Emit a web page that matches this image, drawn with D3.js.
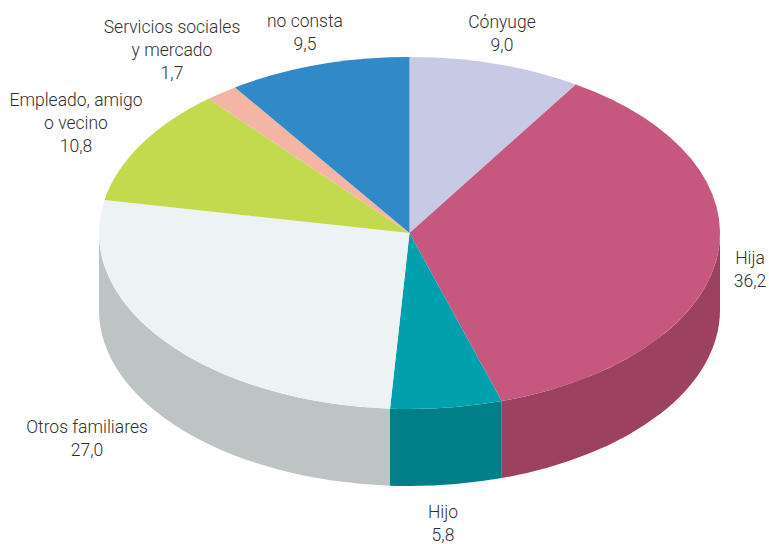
<!DOCTYPE html>
<html>
<head>
<meta charset="utf-8">
<script src="https://cdn.jsdelivr.net/npm/d3@7"></script>
<style>
  html, body { margin: 0; padding: 0; background: #fff; }
  svg { display: block; }
  text { font-family: "Roboto", sans-serif; font-weight: 300; font-size: 17.5px; fill: #2f2f2f; text-anchor: middle; }
</style>
</head>
<body>
<div id="chart"></div>
<script>
const categories = ["Cónyuge", "Hija", "Hijo", "Otros familiares", "Empleado, amigo o vecino", "Servicios sociales y mercado", "no consta"];
const values = [9.0, 36.2, 5.8, 27.0, 10.8, 1.7, 9.5];
const valueLabels = ["9,0", "36,2", "5,8", "27,0", "10,8", "1,7", "9,5"];
const labelLines = [["Cónyuge"], ["Hija"], ["Hijo"], ["Otros familiares"], ["Empleado, amigo", "o vecino"], ["Servicios sociales", "y mercado"], ["no consta"]];
const topColors = ["#c8c9e4", "#c6587f", "#00a1ad", "#edf3f4", "#c3da4e", "#f5b5a5", "#3289c7"];
const wallColors = ["#a0a1b8", "#9d4161", "#007f88", "#bec4c4", "#9cae3e", "#c49084", "#286d9f"];

const width = 769, height = 544;
const cx = 409.5, cy = 233, rx = 310.5, ry = 176, depth = 77;
const lineHeight = 23;
// x centre and first baseline of each label
const labelPos = [[502, 28], [750, 264], [443, 518], [87, 433], [76, 106], [172, 33], [305, 27]];

const svg = d3.select("#chart").append("svg").attr("width", width).attr("height", height);

const pie = d3.pie().sort(null).value((d) => d);
const arcs = pie(values);

// point on the top ellipse, angle clockwise from 12 o'clock
const px = (a) => cx + rx * Math.sin(a);
const py = (a) => cy - ry * Math.cos(a);

// side walls, only the front half of the ellipse shows
const walls = svg.append("g");
arcs.forEach((d, i) => {
  const a0 = Math.max(d.startAngle, Math.PI / 2);
  const a1 = Math.min(d.endAngle, (3 * Math.PI) / 2);
  if (a1 <= a0) return;
  const path =
    `M${px(a0)},${py(a0)}` +
    `A${rx},${ry} 0 0 1 ${px(a1)},${py(a1)}` +
    `L${px(a1)},${py(a1) + depth}` +
    `A${rx},${ry} 0 0 0 ${px(a0)},${py(a0) + depth}Z`;
  walls.append("path").attr("d", path).attr("fill", wallColors[i]);
});

// top face: circular arcs squashed into the ellipse
const arc = d3.arc().innerRadius(0).outerRadius(rx);
svg
  .append("g")
  .attr("transform", `translate(${cx},${cy}) scale(1,${ry / rx})`)
  .selectAll("path")
  .data(arcs)
  .join("path")
  .attr("d", arc)
  .attr("fill", (d, i) => topColors[i]);

const labels = svg
  .append("g")
  .selectAll("text")
  .data(categories)
  .join("text")
  .attr("y", (d, i) => labelPos[i][1]);

labels.each(function (d, i) {
  const lines = labelLines[i].concat(valueLabels[i]);
  d3.select(this)
    .selectAll("tspan")
    .data(lines)
    .join("tspan")
    .attr("x", labelPos[i][0])
    .attr("dy", (l, j) => (j === 0 ? 0 : lineHeight))
    .text((l) => l);
});
</script>
</body>
</html>
